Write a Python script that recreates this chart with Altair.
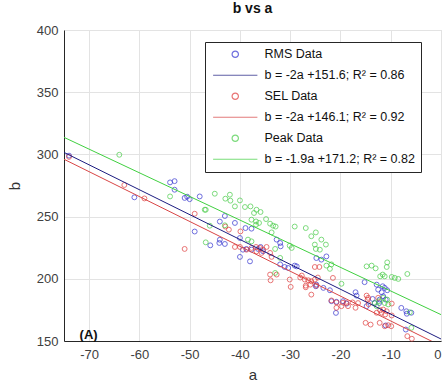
import altair as alt
import pandas as pd

# ---- data ----
rms_a = [-74.0, -61, -53.9, -53, -53, -51, -50.5, -50, -48, -49, -45.9, -44, -44.1, -43, -44, -43, -41,
         -38.9, -37.7, -40, -40, -38, -39.4, -38.7, -37.7, -36.4, -35.4, -35.9, -32, -31.9, -32.7, -32,
         -31.1, -30.4, -29.1, -28.7, -24.8, -23.8, -22.8, -24.9, -24.8, -23.4, -22.1, -21.8, -20.8, -19.5,
         -18.8, -17, -16.8, -15.2, -13.6, -13.2, -12.3, -20.9, -14.8, -12.8, -11.6, -12.5, -11.2, -11.8,
         -10.7, -11.5, -12.2, -11, -7.9, -6.9, -5.9, -6.8, -7.0, -11.0]
rms_b = [299, 265.5, 277.5, 278.5, 271.6, 265, 266, 264, 266.2, 238, 226.9, 231.4, 228.8, 228, 246, 250.5,
         244.9, 240.8, 240.3, 232.8, 217.6, 214, 223.4, 224, 223.4, 224, 222.1, 225.6, 228.8, 226.1, 231.5,
         211.6, 209.5, 208.7, 210.6, 210, 216.7, 215.4, 218, 194, 195.3, 192.7, 190.8, 182, 181.5, 182,
         180, 189.2, 186.5, 197.3, 183.8, 180.5, 180.5, 172.6, 178, 195.3, 194, 191.3, 192.7, 189.2,
         190.8, 186, 183.3, 183.3, 176.6, 173.9, 172.7, 171.9, 159.2, 162.5]

sel_a = [-74, -63, -59, -49, -51, -42.9, -42.2, -39.9, -41, -40, -38.7, -37.7, -36.8, -36, -35.4, -34.7,
         -35.7, -36.7, -34, -33.7, -34, -33.9, -32.7, -30.1, -29.9, -27.7, -27.1, -26.4, -25.8, -25.1,
         -26.9, -26.9, -26, -24.8, -25.8, -25.1, -24.2, -21.5, -21.8, -20.8, -19.5, -18.8, -17.6, -16.5,
         -20.8, -19.8, -18.5, -17, -14.8, -14.5, -12.5, -14.6, -14.4, -12.8, -12.1, -11.1, -10.8, -9.8,
         -9.8, -11.8, -15, -14, -12.2, -11.2, -10.5, -9.9, -6.7, -5.8, -11.5, -28, -24.5]
sel_b = [298, 275.4, 264.6, 252.3, 224, 242, 239.5, 238.1, 225.6, 225.6, 223.4, 224.8, 225.6, 224.8, 223.4,
         225.6, 220.8, 222.1, 220.8, 217.6, 203.4, 198.8, 203.4, 199.4, 193.5, 202.6, 199.4, 198.8, 198,
         199.4, 194.5, 193.2, 195.3, 194.5, 187.3, 209.5, 209.5, 200.7, 182.6, 181, 180.8, 180.5, 181,
         180.5, 176.7, 178, 178, 176.7, 186.5, 184.7, 184.7, 183.3, 179.6, 172.7, 174.7, 171.3, 173.9,
         170.5, 180.1, 172.7, 164.6, 163.2, 164.6, 161.9, 162.7, 161.9, 153.9, 151.8, 175.3, 201, 201]

peak_a = [-64, -53.9, -45, -42.9, -42, -41.9, -41, -40, -47, -46.8, -46.8, -46, -43, -39, -37.9, -36.7,
          -35.9, -37.2, -37.7, -36.8, -36.8, -36.2, -34.8, -34, -33.4, -33.7, -32.9, -38.4, -37.7, -33,
          -32, -33, -30.1, -29.7, -29.1, -26.9, -25.8, -24.9, -25.1, -23.8, -22.9, -24.1, -24.9, -22.8,
          -22.1, -21.8, -19.8, -14.8, -13.8, -13, -12.1, -11.6, -11.2, -10.7, -10.8, -9.8, -9.2, -8.5,
          -6.7, -13.2, -12.3, -11.5, -11.2, -10.7, -10.5, -12.8, -6.2, -5.9]
peak_b = [299.7, 266.2, 268.4, 264.4, 267.6, 262.8, 258.2, 263, 255.5, 255.5, 229.3, 242.7, 243, 257.7,
          258.2, 255.5, 253.7, 252.9, 247.5, 246.1, 243.5, 244.9, 248, 244.3, 242.7, 237.3, 242, 231.5,
          230.1, 224, 216.8, 204.7, 226.6, 224.8, 242, 240.8, 234.2, 237.3, 227.5, 231.5, 227.5, 223.4,
          224, 210.6, 208, 211.6, 196, 210, 210.6, 208.4, 202, 203.4, 202, 213.2, 209.5, 201.5, 200.7,
          199.9, 203.9, 180.5, 182, 184.7, 180.5, 183.3, 179.4, 178, 173.1, 160.6]

series_names = ["RMS Data", "SEL Data", "Peak Data"]
fit_slopes = [-2, -2, -1.9]
fit_intercepts = [151.6, 146.1, 171.2]
fit_labels = ["b = -2a +151.6; R\u00b2 = 0.86",
              "b = -2a +146.1; R\u00b2 = 0.92",
              "b = -1.9a +171.2; R\u00b2 = 0.82"]
x_ticks = [-70, -60, -50, -40, -30, -20, -10, 0]
y_ticks = [150, 200, 250, 300, 350, 400]
panel_label = "(A)"

# ---- tables ----
rows = []
for name, aa, bb in zip(series_names, [rms_a, sel_a, peak_a], [rms_b, sel_b, peak_b]):
    for a, b in zip(aa, bb):
        rows.append({"a": a, "b": b, "label": name})
pts = pd.DataFrame(rows)

line_rows = []
for lab, m, c in zip(fit_labels, fit_slopes, fit_intercepts):
    for a in (-75, 0):
        line_rows.append({"a": a, "b": m * a + c, "label": lab})
lines = pd.DataFrame(line_rows)

domain = [series_names[0], fit_labels[0], series_names[1], fit_labels[1], series_names[2], fit_labels[2]]
colors = ["#3030d0", "#1c1c80", "#e03a3a", "#d84545", "#45cc45", "#40d040"]
line_symbol = "M-7,0H7"
shapes = ["circle", line_symbol, "circle", line_symbol, "circle", line_symbol]

font = "Liberation Sans"
xs = alt.Scale(domain=[-75, 0], nice=False, zero=False)
ys = alt.Scale(domain=[150, 400], nice=False, zero=False)

xaxis = alt.Axis(values=x_ticks, title="a", grid=True, gridColor="#e3e3e3", domainColor="#262626",
                 tickSize=0, labelPadding=7, labelFontSize=13, labelColor="#404040", labelFont=font,
                 titleFont=font, titleFontSize=15, titleFontWeight="normal", titleColor="#333333",
                 titlePadding=6, labelExpr="'' + datum.value")
yaxis = alt.Axis(values=y_ticks, title="b", grid=True, gridColor="#e3e3e3", domainColor="#262626",
                 tickSize=0, labelPadding=6, labelFontSize=13, labelColor="#404040", labelFont=font,
                 titleFont=font, titleFontSize=15, titleFontWeight="normal", titleColor="#333333",
                 titlePadding=14)

leg = alt.Legend(title=None, orient="none", legendX=141, legendY=12,
                 strokeColor="#262626", fillColor="white", padding=6,
                 labelFont=font, labelFontSize=12.5, labelColor="#111111",
                 symbolSize=40, symbolOffset=18, labelOffset=23, rowPadding=8,
                 symbolStrokeWidth=1.2, labelLimit=300)

color = alt.Color("label:N", scale=alt.Scale(domain=domain, range=colors), legend=leg)

points = alt.Chart(pts).mark_point(filled=False, strokeWidth=1, size=24).encode(
    x=alt.X("a:Q", scale=xs, axis=xaxis),
    y=alt.Y("b:Q", scale=ys, axis=yaxis),
    color=color,
    shape=alt.Shape("label:N", scale=alt.Scale(domain=domain, range=shapes), legend=leg),
)

fits = alt.Chart(lines).mark_line(strokeWidth=1, clip=True).encode(
    x=alt.X("a:Q", scale=xs),
    y=alt.Y("b:Q", scale=ys),
    color=color,
    detail="label:N",
)

ann = alt.Chart(pd.DataFrame({"a": [-70.1], "b": [152], "t": [panel_label]})).mark_text(
    font=font, fontSize=13, fontWeight="bold", color="#111111", align="center", baseline="alphabetic"
).encode(x=alt.X("a:Q", scale=xs), y=alt.Y("b:Q", scale=ys), text="t:N")

chart = alt.layer(points, fits, ann).properties(
    width=377, height=311,
    title=alt.TitleParams("b vs a", font=font, fontSize=14, fontWeight="bold", color="#111111", offset=8),
    autosize=alt.AutoSizeParams(type="none"),
    padding={"left": 64, "top": 30, "right": 6, "bottom": 49},
).configure_view(stroke="#262626", strokeWidth=1).configure(background="white")

chart.save("out.html", embed_options={"renderer": "svg", "actions": False})
